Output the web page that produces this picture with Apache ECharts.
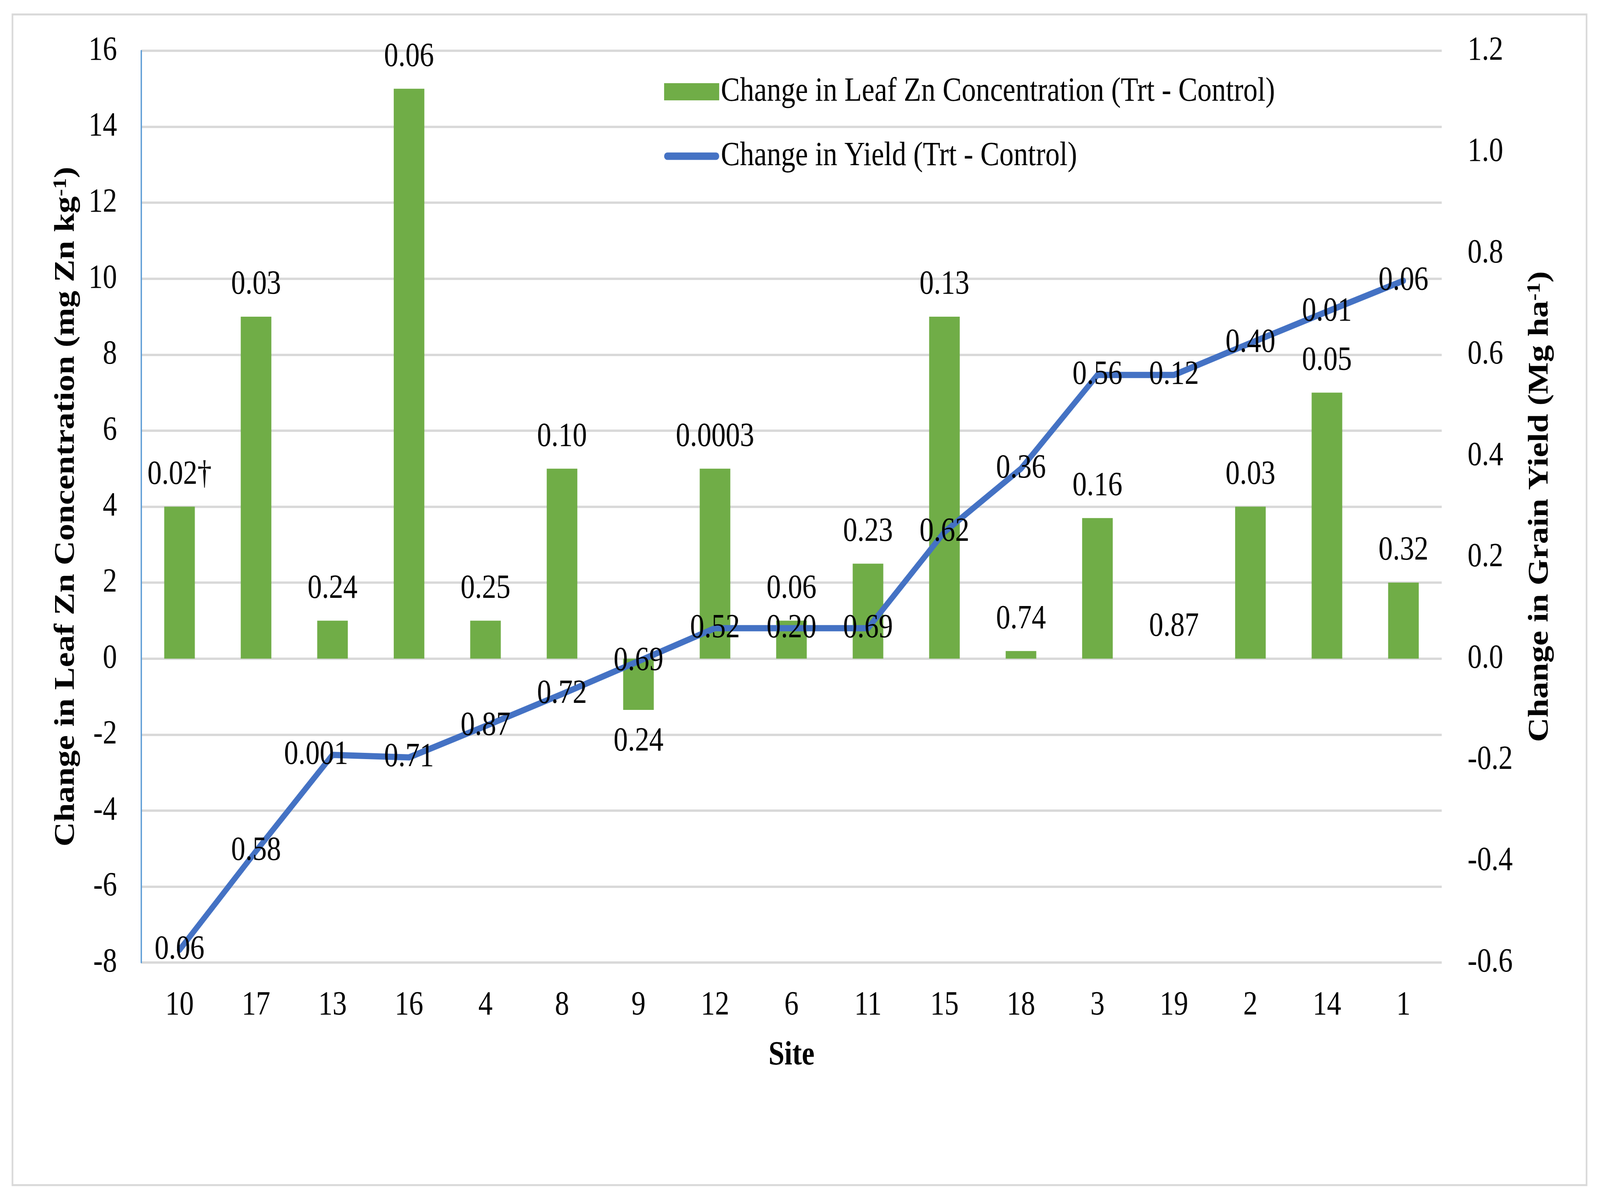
<!DOCTYPE html>
<html>
<head>
<meta charset="utf-8">
<script src="https://cdn.jsdelivr.net/npm/echarts@6/dist/echarts.min.js"></script>
<style>
html,body{margin:0;padding:0;background:#fff;overflow:hidden;}
#chart{position:absolute;left:0;top:0;width:4881px;height:3068px;transform-origin:0 0;}
</style>
</head>
<body>
<div id="chart"></div>
<script>
// ---- data ----
const sites = ['10','17','13','16','4','8','9','12','6','11','15','18','3','19','2','14','1'];
const leafZnChange = [4, 9, 1, 15, 1, 5, -1.35, 5, 1.0, 2.5, 9, 0.2, 3.7, 0, 4, 7, 2];
const leafZnPLabels = ['0.02\u2020','0.03','0.24','0.06','0.25','0.10','0.24','0.0003','0.06','0.23','0.13','0.74','0.16','0.87','0.03','0.05','0.32'];
const yieldChange = [-0.575, -0.38, -0.19, -0.195, -0.133, -0.07, -0.005, 0.06, 0.06, 0.06, 0.25, 0.375, 0.56, 0.56, 0.623, 0.685, 0.746];
const yieldPLabels = ['0.06','0.58','0.001','0.71','0.87','0.72','0.69','0.52','0.20','0.69','0.62','0.36','0.56','0.12','0.40','0.01','0.06'];
const leftTicks = {min: -8, max: 16, interval: 2};
const rightTicks = {min: -0.6, max: 1.2, interval: 0.2};
const seriesNames = ['Change in Leaf Zn Concentration (Trt - Control)', 'Change in Yield (Trt - Control)'];

// layout is designed on a 4881x3068 page and stretched to fill the actual viewport
const DW = 4881, DH = 3068;
const el = document.getElementById('chart');
const sx = window.innerWidth / DW, sy = window.innerHeight / DH;
el.style.transform = 'scale(' + sx + ',' + sy + ')';

const FONT = '"Liberation Serif", "Times New Roman", serif';
const FS = 87;
const GREEN = '#70AD47';
const BLUE = '#4472C4';

const barData = leafZnChange.map(v => ({
  value: v,
  label: { position: v < 0 ? 'bottom' : 'top' }
}));

// the "0.001" yield label sits slightly left of its point in the original
const lineData = yieldChange.map((v, i) => (
  i === 2 ? {value: v, label: {offset: [-50, 0]}} : v
));

const lineIcon = 'path://M9.5,0 H158.5 A9.5,9.5 0 0 1 158.5,19 H9.5 A9.5,9.5 0 0 1 9.5,0 Z';

const chart = echarts.init(el, null, {
  renderer: 'canvas', width: DW, height: DH,
  devicePixelRatio: (window.devicePixelRatio || 1) * Math.max(1, sx, sy)
});
chart.setOption({
  animation: false,
  backgroundColor: '#fff',
  graphic: [{
    type: 'rect', z: -10,
    shape: {x: 38, y: 37, width: 4802, height: 2998},
    style: {fill: '#fff', stroke: '#d9d9d9', lineWidth: 5}
  }],
  grid: {left: 431, right: DW - 4398, top: 130, bottom: DH - 2465, containLabel: false},
  legend: {
    orient: 'vertical',
    left: 2021, top: 185,
    itemWidth: 168, itemHeight: 44, itemGap: 75,
    textStyle: {fontFamily: FONT, fontSize: FS, color: '#000', lineHeight: 90},
    data: [
      {name: seriesNames[0], icon: 'rect'},
      {name: seriesNames[1], icon: lineIcon}
    ]
  },
  xAxis: {
    type: 'category',
    data: sites,
    axisLine: {show: false},
    axisTick: {show: false},
    axisLabel: {fontFamily: FONT, fontSize: FS, color: '#000', margin: 67},
    name: 'Site',
    nameLocation: 'middle',
    nameGap: 195,
    nameTextStyle: {fontFamily: FONT, fontSize: FS, fontWeight: 'bold', color: '#000'}
  },
  yAxis: [{
    type: 'value',
    min: leftTicks.min, max: leftTicks.max, interval: leftTicks.interval,
    axisLine: {show: true, lineStyle: {color: '#5B9BD5', width: 4}},
    axisTick: {show: false},
    splitLine: {show: true, lineStyle: {color: '#d9d9d9', width: 6}},
    axisLabel: {fontFamily: FONT, fontSize: FS, color: '#000', margin: 74},
    name: 'Change in Leaf Zn Concentration (mg Zn kg{sup|-1})',
    nameLocation: 'middle',
    nameRotate: 90,
    nameGap: 185,
    nameTextStyle: {
      fontFamily: FONT, fontSize: FS, fontWeight: 'bold', color: '#000',
      rich: {sup: {fontFamily: FONT, fontSize: 56, fontWeight: 'bold', color: '#000', verticalAlign: 'top'}}
    }
  }, {
    type: 'value',
    position: 'right',
    min: rightTicks.min, max: rightTicks.max, interval: rightTicks.interval,
    axisLine: {show: false},
    axisTick: {show: false},
    splitLine: {show: false},
    axisLabel: {fontFamily: FONT, fontSize: FS, color: '#000', margin: 79,
      formatter: v => v.toFixed(1)},
    name: 'Change in Grain Yield (Mg ha{sup|-1})',
    nameLocation: 'middle',
    nameRotate: 90,
    nameGap: 257,
    nameTextStyle: {
      fontFamily: FONT, fontSize: FS, fontWeight: 'bold', color: '#000',
      rich: {sup: {fontFamily: FONT, fontSize: 56, fontWeight: 'bold', color: '#000', verticalAlign: 'top'}}
    }
  }],
  series: [{
    name: seriesNames[0],
    type: 'bar',
    yAxisIndex: 0,
    barWidth: '40%',
    itemStyle: {color: GREEN},
    data: barData,
    label: {
      show: true,
      distance: 38,
      fontFamily: FONT, fontSize: FS, color: '#000',
      formatter: q => leafZnPLabels[q.dataIndex]
    },
    z: 2
  }, {
    name: seriesNames[1],
    type: 'line',
    yAxisIndex: 1,
    data: lineData,
    symbol: 'circle',
    symbolSize: 2,
    itemStyle: {color: BLUE},
    lineStyle: {color: BLUE, width: 16, cap: 'round', join: 'round'},
    label: {
      show: true,
      position: 'inside',
      fontFamily: FONT, fontSize: FS, color: '#000',
      formatter: q => yieldPLabels[q.dataIndex]
    },
    z: 3
  }]
});
</script>
</body>
</html>
